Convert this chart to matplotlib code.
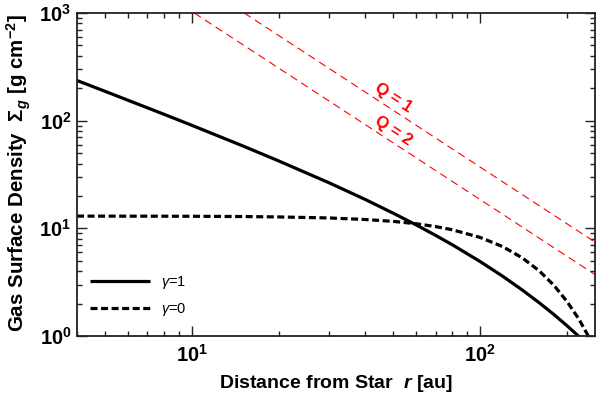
import numpy as np
import matplotlib
matplotlib.use("Agg")
import matplotlib.pyplot as plt
from matplotlib.ticker import FixedLocator, LogLocator, NullFormatter

plt.rcParams['font.family'] = ['Liberation Sans', 'DejaVu Sans']
plt.rcParams['mathtext.fontset'] = 'custom'
plt.rcParams['mathtext.rm'] = 'Liberation Sans'
plt.rcParams['mathtext.bf'] = 'Liberation Sans:bold'
plt.rcParams['mathtext.it'] = 'Liberation Sans:italic'
plt.rcParams['mathtext.bfit'] = 'Liberation Sans:bold:italic'

# ---- data ----
r_au = [4, 5, 6, 8, 10, 15, 20, 30, 40, 50, 60, 70, 80, 100, 120, 140, 160, 180, 200, 220, 240]
sigma_gamma1 = [236, 187.5, 155, 114.8, 90.6, 58.4, 42.3, 26.4, 18.5, 13.8, 10.75, 8.61, 7.04,
                4.91, 3.57, 2.67, 2.04, 1.585, 1.245, 0.988, 0.79]
sigma_gamma0 = [12.99, 12.98, 12.97, 12.96, 12.94, 12.87, 12.76, 12.48, 12.08, 11.6, 11.03, 10.39, 9.70,
                8.23, 6.74, 5.31, 4.04, 2.96, 2.09, 1.43, 0.94]
q1_r = [15.2, 250]
q1_sigma = [1000, 7.45]
q2_r = [10.2, 250]
q2_sigma = [1000, 3.72]
legend_labels = [r'$\gamma$=1', r'$\gamma$=0']
q_labels = ['Q = 1', 'Q = 2']
x_ticks = [10, 100]
x_ticklabels = [r'$\mathbf{10}^{\mathbf{1}}$', r'$\mathbf{10}^{\mathbf{2}}$']
y_ticks = [1, 10, 100, 1000]
y_ticklabels = [r'$\mathbf{10}^{\mathbf{0}}$', r'$\mathbf{10}^{\mathbf{1}}$',
                r'$\mathbf{10}^{\mathbf{2}}$', r'$\mathbf{10}^{\mathbf{3}}$']

fig = plt.figure(figsize=(5.98, 3.96), dpi=100)
ax = fig.add_axes([77/598, 1-336/396, (595-77)/598, (336-13)/396])

ax.plot(r_au, sigma_gamma1, color='black', lw=2.3, solid_capstyle='butt', label=legend_labels[0])
ax.plot(r_au, sigma_gamma0, color='black', lw=2.3, dashes=(2.2, 1.1), label=legend_labels[1])
ax.plot(q1_r, q1_sigma, color='red', lw=0.8, dashes=(7, 4.5))
ax.plot(q2_r, q2_sigma, color='red', lw=0.8, dashes=(7, 4.5))

ax.text(50, 163, q_labels[0], color='red', fontsize=12, fontweight='bold', rotation=-33,
        rotation_mode='anchor', ha='center', va='center')
ax.text(50, 80, q_labels[1], color='red', fontsize=12, fontweight='bold', rotation=-33,
        rotation_mode='anchor', ha='center', va='center')

ax.set_xscale('log')
ax.set_yscale('log')
ax.set_xlim(4, 250)
ax.set_ylim(1, 1000)

ax.xaxis.set_major_locator(FixedLocator(x_ticks))
ax.set_xticklabels(x_ticklabels)
ax.yaxis.set_major_locator(FixedLocator(y_ticks))
ax.set_yticklabels(y_ticklabels)
ax.xaxis.set_minor_locator(LogLocator(base=10, subs=np.arange(2, 10)))
ax.yaxis.set_minor_locator(LogLocator(base=10, subs=np.arange(2, 10)))
ax.xaxis.set_minor_formatter(NullFormatter())
ax.yaxis.set_minor_formatter(NullFormatter())

ax.tick_params(which='both', direction='in', top=True, right=True, color='#222222', width=1.0)
ax.tick_params(which='major', length=7.5, labelsize=14.5, pad=6)
ax.tick_params(which='minor', length=3.8)
ax.tick_params(axis='y', which='major', pad=4)
for s in ax.spines.values():
    s.set_linewidth(1.3)
    s.set_color('#222222')

ax.set_xlabel(r'Distance from Star  $\boldsymbol{r}$ [au]', fontsize=14, fontweight='bold')
ax.set_ylabel(r'Gas Surface Density  $\mathbf{\Sigma}_{\mathbfit{g}}$ [g cm$^{\mathbf{-2}}$]',
              fontsize=14.8, fontweight='bold')
ax.xaxis.set_label_coords(0.5, -0.115)
ax.yaxis.set_label_coords(-0.085, 0.505)

leg = ax.legend(loc='lower left', bbox_to_anchor=(0.025, 0.055), frameon=False, fontsize=10.5,
                handlelength=4.1, handletextpad=0.75, labelspacing=0.7, borderpad=0, borderaxespad=0)

fig.savefig('out.png', dpi=100)
